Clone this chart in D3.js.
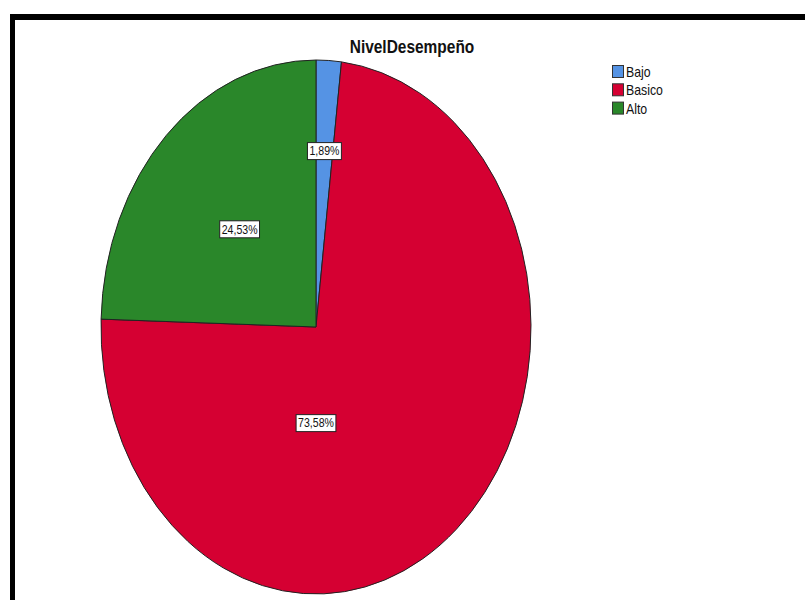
<!DOCTYPE html>
<html>
<head>
<meta charset="utf-8">
<script src="https://cdn.jsdelivr.net/npm/d3@7"></script>
<style>
  body { margin: 0; background: #fff; }
  text { font-family: "Liberation Sans", Arial, sans-serif; }
</style>
</head>
<body>
<div id="chart"></div>
<script>
const width = 805;
const height = 600;

// data
const categories = ["Bajo", "Basico", "Alto"];
const percents = [1.89, 73.58, 24.53];
const colors = ["#5593e4", "#d50032", "#2a872a"];
const title = "NivelDesempeño";

// where SPSS puts the percent boxes (fraction of radius, optional fixed angle)
const labelPlacement = {
  Bajo: { r: 0.66 },
  Basico: { r: 0.36, angle: Math.PI },
  Alto: { r: 0.51 }
};

const cx = 316, cy = 327;
const rx = 215, ry = 267;

const slices = categories.map((c, i) => ({ name: c, value: percents[i], color: colors[i] }));

const svg = d3.select("#chart")
  .append("svg")
  .attr("width", width)
  .attr("height", height);

// frame (top + left only, the screenshot is cropped)
svg.append("rect").attr("x", 10).attr("y", 14).attr("width", width - 10).attr("height", 6).attr("fill", "#000");
svg.append("rect").attr("x", 10).attr("y", 14).attr("width", 5).attr("height", height - 14).attr("fill", "#000");

// title
svg.append("text")
  .attr("transform", `translate(412,53) scale(0.86,1)`)
  .attr("text-anchor", "middle")
  .attr("font-size", "18px")
  .attr("font-weight", "bold")
  .attr("fill", "#111")
  .text(title);

const pie = d3.pie()
  .sort(null)
  .value(d => d.value);

const arcs = pie(slices);

const arc = d3.arc()
  .innerRadius(0)
  .outerRadius(rx);

// pie is stretched vertically like the exported picture
const g = svg.append("g")
  .attr("transform", `translate(${cx},${cy}) scale(1,${ry / rx})`);

g.selectAll("path")
  .data(arcs)
  .enter().append("path")
  .attr("d", arc)
  .attr("fill", d => d.data.color)
  .attr("stroke", "#222")
  .attr("stroke-width", 1)
  .attr("vector-effect", "non-scaling-stroke");

// percent labels
const fmt = v => v.toFixed(2).replace(".", ",") + "%";

arcs.forEach(d => {
  const p = labelPlacement[d.data.name];
  const a = p.angle !== undefined ? p.angle : (d.startAngle + d.endAngle) / 2;
  const x = cx + Math.sin(a) * rx * p.r;
  const y = cy - Math.cos(a) * ry * p.r;

  const lg = svg.append("g").attr("transform", `translate(${x},${y})`);
  const box = lg.append("rect");
  const t = lg.append("text")
    .attr("transform", "scale(0.88,1)")
    .attr("text-anchor", "middle")
    .attr("dy", "0.36em")
    .attr("font-size", "12px")
    .attr("fill", "#111")
    .text(fmt(d.data.value));
  const w = t.node().getBBox().width * 0.88 + 4;
  const h = 17;
  box.attr("x", -w / 2).attr("y", -h / 2)
    .attr("width", w).attr("height", h)
    .attr("fill", "#fff")
    .attr("stroke", "#222")
    .attr("stroke-width", 1);
});

// legend
const legend = svg.append("g")
  .attr("transform", "translate(612,65)");

const item = legend.selectAll("g")
  .data(slices)
  .enter().append("g")
  .attr("transform", (d, i) => `translate(0,${i * 18.3})`);

item.append("rect")
  .attr("x", 0.5).attr("y", 0.5)
  .attr("width", 11).attr("height", 12)
  .attr("fill", d => d.color)
  .attr("stroke", "#333")
  .attr("stroke-width", 1);

item.append("text")
  .attr("transform", "translate(14,12) scale(0.88,1)")
  .attr("font-size", "14px")
  .attr("fill", "#111")
  .text(d => d.name);
</script>
</body>
</html>
